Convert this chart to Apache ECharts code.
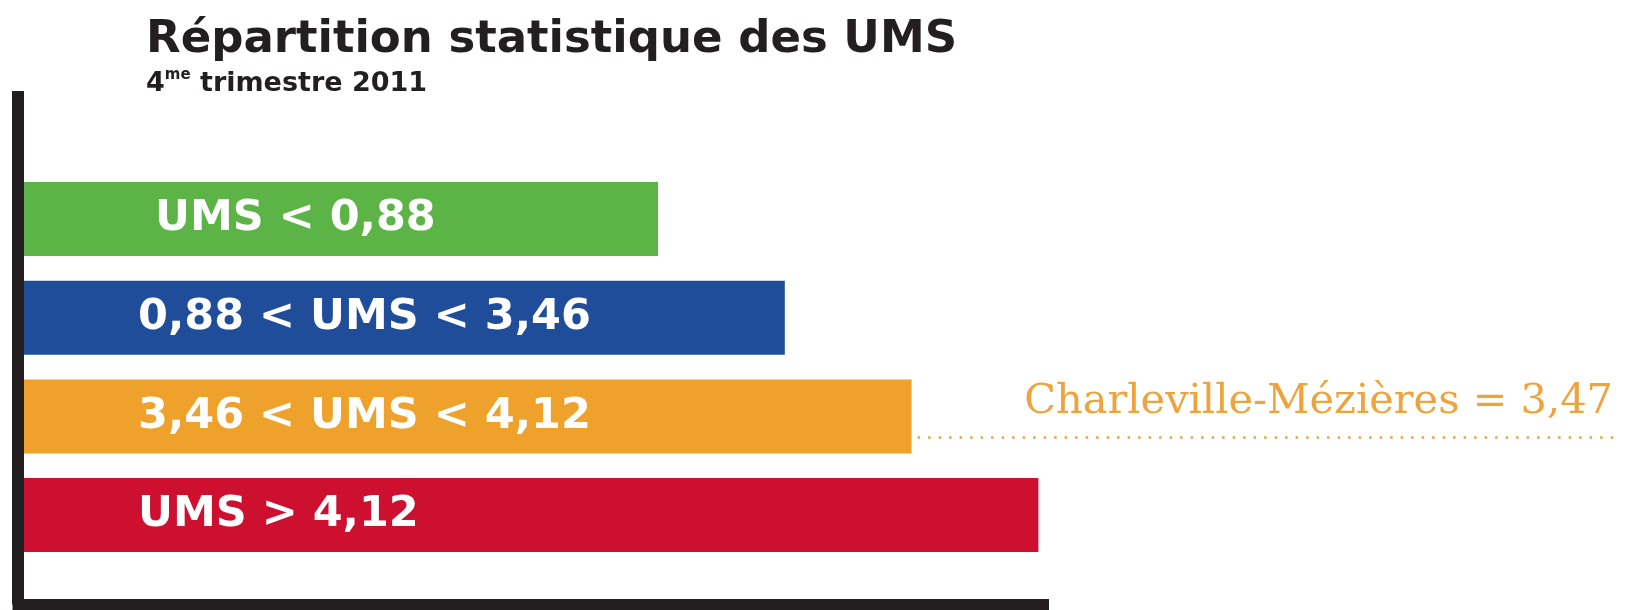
<!DOCTYPE html>
<html lang="fr">
<head>
  <meta http-equiv="Content-Type" content="text/html; charset=UTF-8">
  <title>Répartition statistique des UMS</title>
  <style>
    html, body {
      margin: 0;
      padding: 0;
      background: #fff;
    }
    #myChart {
      width: 1625px;
      height: 610px;
    }
  </style>
</head>
<body>
  <div id="myChart"></div>
  <script src="https://cdn.jsdelivr.net/npm/echarts@6/dist/echarts.min.js"></script>
  <script>
    // classes (du haut vers le bas)
    const categories = ['UMS < 0,88', '0,88 < UMS < 3,46', '3,46 < UMS < 4,12', 'UMS > 4,12'];
    // longueur des barres
    const barLengths = [5, 6, 7, 8];
    const barColors = ['#5db446', '#1f4d99', '#eea12b', '#cd0f30'];
    // repère : ville dans la 3e classe
    const markCity = 'Charleville-Mézières';
    const markValue = '3,47';
    const markIdx = 2;

    const sans = 'DejaVu Sans';
    const dark = '#231f20';
    const orange = '#eea43c';

    const option = {
      animation: false,
      backgroundColor: '#fff',
      title: [{
        text: 'Répartition statistique des UMS',
        left: 141,
        top: 13,
        textStyle: { fontFamily: sans, fontWeight: 'bold', fontSize: 45, color: dark }
      }, {
        text: '{n|4}{s|me}{n| trimestre 2011}',
        left: 141,
        top: 63,
        textStyle: {
          rich: {
            n: { fontFamily: sans, fontWeight: 'bold', fontSize: 27, color: dark, lineHeight: 32 },
            s: { fontFamily: sans, fontWeight: 'bold', fontSize: 15, color: dark, verticalAlign: 'top', lineHeight: 32, padding: [0, 0, 10, 0] }
          }
        }
      }],
      grid: [
        // cadre (axes noirs)
        { left: 18, top: 91, width: 1025.5, height: 513.5 },
        // barres
        { left: 24, top: 169.7, width: 1268, height: 394.7 }
      ],
      xAxis: [{
        gridIndex: 0, type: 'value', min: 0, max: 1,
        axisLine: { show: true, lineStyle: { color: dark, width: 11, cap: 'square' } },
        axisTick: { show: false }, axisLabel: { show: false }, splitLine: { show: false }
      }, {
        gridIndex: 1, type: 'value', min: 0, max: 10, show: false
      }],
      yAxis: [{
        gridIndex: 0, type: 'value', min: 0, max: 1,
        axisLine: { show: true, lineStyle: { color: dark, width: 12, cap: 'butt' } },
        axisTick: { show: false }, axisLabel: { show: false }, splitLine: { show: false }
      }, {
        gridIndex: 1, type: 'category', inverse: true, data: categories, show: false
      }],
      series: [{
        type: 'bar',
        xAxisIndex: 1,
        yAxisIndex: 1,
        barWidth: 74,
        data: barLengths.map((v, i) => ({
          value: v,
          itemStyle: { color: barColors[i] },
          label: { position: [i === 0 ? 131 : 114, '50%'] }
        })),
        label: {
          show: true,
          formatter: p => p.name,
          align: 'left',
          verticalAlign: 'middle',
          fontFamily: sans,
          fontWeight: 'bold',
          fontSize: 43,
          color: '#fff'
        }
      }]
    };

    const myChart = echarts.init(document.getElementById('myChart'));
    myChart.setOption(option);

    // repère pointillé + texte, placés à partir de la barre orange
    const end = myChart.convertToPixel({ xAxisIndex: 1, yAxisIndex: 1 }, [barLengths[markIdx], markIdx]);
    const lineY = end[1] + 21;
    myChart.setOption({
      graphic: [{
        type: 'line',
        shape: { x1: end[0] + 6, y1: lineY, x2: 1618, y2: lineY },
        style: { stroke: orange, lineWidth: 2.5, lineDash: [2.5, 8] }
      }, {
        type: 'text',
        x: 1613,
        y: lineY - 14,
        style: {
          text: markCity + ' = ' + markValue,
          fontFamily: 'DejaVu Serif',
          fontSize: 41.5,
          fill: orange,
          align: 'right',
          verticalAlign: 'bottom'
        }
      }]
    });
  </script>
</body>
</html>
